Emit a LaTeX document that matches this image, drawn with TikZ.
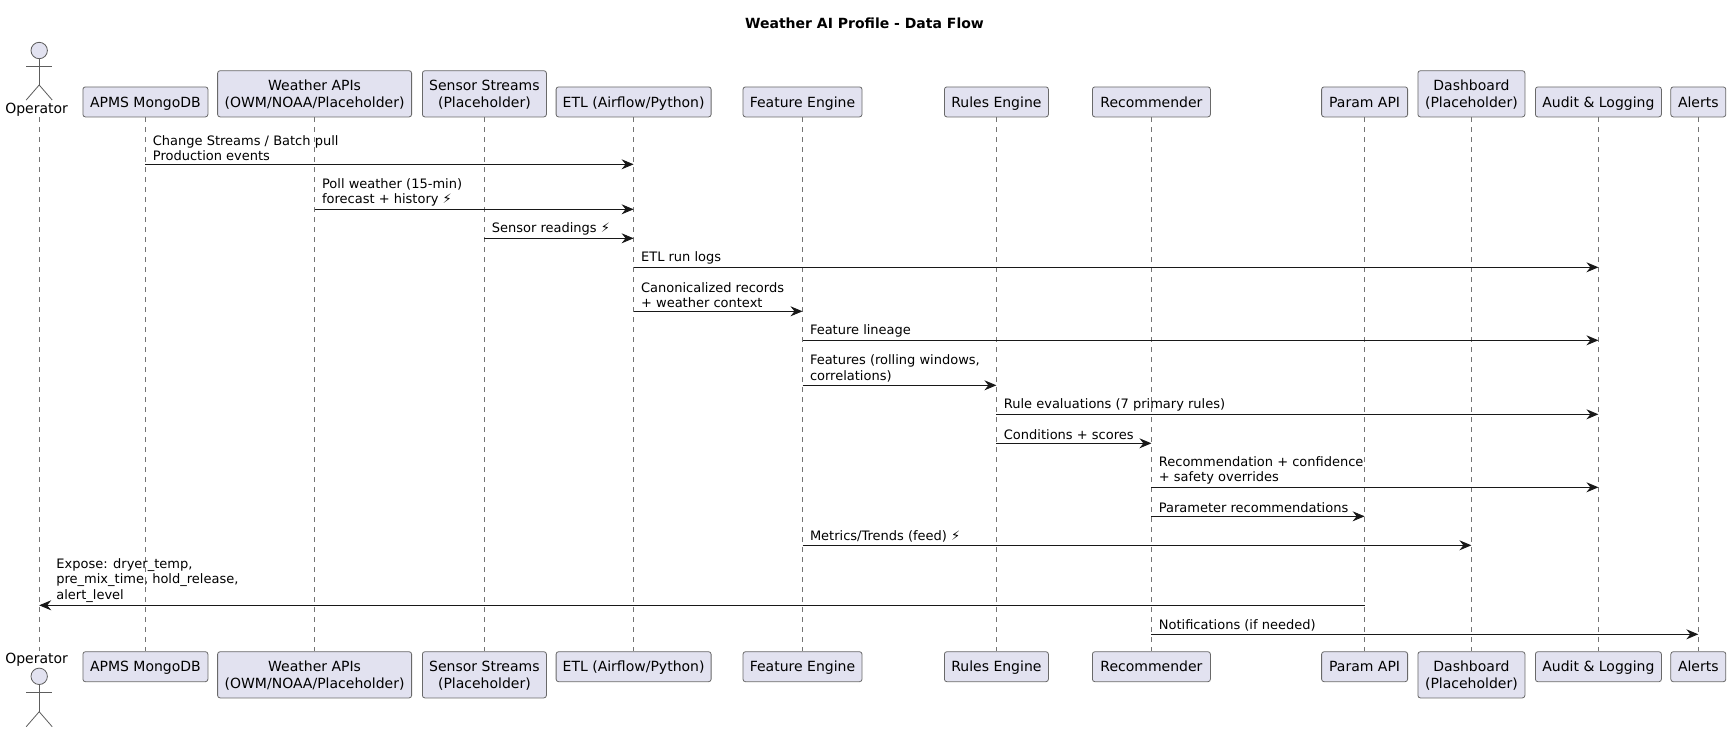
\documentclass[tikz,border=0pt]{standalone}
\usepackage{fontspec}
\setmainfont{DejaVu Sans}
\usetikzlibrary{arrows.meta, positioning}

\definecolor{partfill}{HTML}{E2E2F0}
\definecolor{partline}{HTML}{181818}

\tikzset{
  part/.style={draw=partline!65, fill=partfill, line width=0.8pt, rounded corners=2.5pt, align=center,
    inner sep=0pt, minimum height=30pt, text height=10.5pt, text depth=0pt, font=\fontsize{14}{16.2}\selectfont},
  tallpart/.style={part, minimum height=46.2pt, text height=26.7pt},
  lifeline/.style={draw=partline!60, line width=0.7pt, dash pattern=on 5pt off 5pt},
  msg/.style={draw=partline, line width=0.9pt, -{Stealth[length=12pt, width=10pt, inset=4pt]}},
  msglabel/.style={anchor=south west, align=left, inner sep=0pt, text=black, xshift=7.3pt, yshift=3pt,
    font=\fontsize{13}{15.4}\selectfont},
  stick/.style={draw=partline!70, line width=0.8pt},
}

\begin{document}
\begin{tikzpicture}[x=1pt, y=1pt]

  \useasboundingbox (0,0) rectangle (1731,-732);
  \fill[white] (0,0) rectangle (1731,-732);

  % Title
  \node[font=\fontsize{14}{16}\selectfont\bfseries] (title) at (864.5,-23) {Weather AI Profile - Data Flow};

  % Top participants
  \coordinate (opertop) at (39.2,-117.3);
  \node[part, anchor=south, minimum width=125pt] (apmstop) at (145.4,-117.3) {APMS MongoDB};
  \node[tallpart, anchor=south, minimum width=194pt] (weathertop) at (314.6,-117.3) {Weather APIs\\(OWM/NOAA/Placeholder)};
  \node[tallpart, anchor=south, minimum width=124pt] (sensortop) at (484.4,-117.3) {Sensor Streams\\(Placeholder)};
  \node[part, anchor=south, minimum width=155pt] (etltop) at (633.6,-117.3) {ETL (Airflow/Python)};
  \node[part, anchor=south, minimum width=119pt] (featuretop) at (802.5,-117.3) {Feature Engine};
  \node[part, anchor=south, minimum width=104pt] (rulestop) at (996.4,-117.3) {Rules Engine};
  \node[part, anchor=south, minimum width=118pt] (rectop) at (1151.4,-117.3) {Recommender};
  \node[part, anchor=south, minimum width=86pt] (paramtop) at (1364.6,-117.3) {Param API};
  \node[tallpart, anchor=south, minimum width=107pt] (dashtop) at (1471.4,-117.3) {Dashboard\\(Placeholder)};
  \node[part, anchor=south, minimum width=126pt] (audittop) at (1598.4,-117.3) {Audit \& Logging};
  \node[part, anchor=south, minimum width=55pt] (alertstop) at (1698.3,-117.3) {Alerts};

  % Bottom participants
  \coordinate (operbot) at (39.2,-651.3);
  \node[part, anchor=north, minimum width=125pt] (apmsbot) at (145.4,-651.3) {APMS MongoDB};
  \node[tallpart, anchor=north, minimum width=194pt] (weatherbot) at (314.6,-651.3) {Weather APIs\\(OWM/NOAA/Placeholder)};
  \node[tallpart, anchor=north, minimum width=124pt] (sensorbot) at (484.4,-651.3) {Sensor Streams\\(Placeholder)};
  \node[part, anchor=north, minimum width=155pt] (etlbot) at (633.6,-651.3) {ETL (Airflow/Python)};
  \node[part, anchor=north, minimum width=119pt] (featurebot) at (802.5,-651.3) {Feature Engine};
  \node[part, anchor=north, minimum width=104pt] (rulesbot) at (996.4,-651.3) {Rules Engine};
  \node[part, anchor=north, minimum width=118pt] (recbot) at (1151.4,-651.3) {Recommender};
  \node[part, anchor=north, minimum width=86pt] (parambot) at (1364.6,-651.3) {Param API};
  \node[tallpart, anchor=north, minimum width=107pt] (dashbot) at (1471.4,-651.3) {Dashboard\\(Placeholder)};
  \node[part, anchor=north, minimum width=126pt] (auditbot) at (1598.4,-651.3) {Audit \& Logging};
  \node[part, anchor=north, minimum width=55pt] (alertsbot) at (1698.3,-651.3) {Alerts};

  % Lifelines
  \draw[lifeline] (opertop) -- (operbot);
  \draw[lifeline] (apmstop) -- (apmsbot);
  \draw[lifeline] (weathertop) -- (weatherbot);
  \draw[lifeline] (sensortop) -- (sensorbot);
  \draw[lifeline] (etltop) -- (etlbot);
  \draw[lifeline] (featuretop) -- (featurebot);
  \draw[lifeline] (rulestop) -- (rulesbot);
  \draw[lifeline] (rectop) -- (recbot);
  \draw[lifeline] (paramtop) -- (parambot);
  \draw[lifeline] (dashtop) -- (dashbot);
  \draw[lifeline] (audittop) -- (auditbot);
  \draw[lifeline] (alertstop) -- (alertsbot);

  % Operator, top
  \draw[stick, fill=partfill] (39.2,-50.5) circle (8.2);
  \draw[stick] (39.2,-58.7) -- (39.2,-85) (26.2,-66) -- (52.2,-66);
  \draw[stick] (26.2,-100) -- (39.2,-85) -- (52.2,-100);
  \node[font=\fontsize{14}{16}\selectfont] (opertoplabel) at (36.6,-110) {Operator};

  % Operator, bottom
  \node[font=\fontsize{14}{16}\selectfont] (operbotlabel) at (36.6,-659.3) {Operator};
  \draw[stick, fill=partfill] (39.2,-676.3) circle (8.2);
  \draw[stick] (39.2,-684.5) -- (39.2,-711.7) (26.2,-692) -- (52.2,-692);
  \draw[stick] (26.2,-726.7) -- (39.2,-711.7) -- (52.2,-726.7);

  % Message heights
  \coordinate (m1) at (0,-164.3);
  \coordinate (m2) at (0,-209.3);
  \coordinate (m3) at (0,-238.3);
  \coordinate (m4) at (0,-267.3);
  \coordinate (m5) at (0,-311.3);
  \coordinate (m6) at (0,-340.3);
  \coordinate (m7) at (0,-385.3);
  \coordinate (m8) at (0,-414.3);
  \coordinate (m9) at (0,-443.3);
  \coordinate (m10) at (0,-487.3);
  \coordinate (m11) at (0,-516.3);
  \coordinate (m12) at (0,-545.3);
  \coordinate (m13) at (0,-605.3);
  \coordinate (m14) at (0,-634.3);

  % Messages
  \draw[msg] (apmstop |- m1) -- (etltop |- m1);
  \node[msglabel] (l1) at (apmstop |- m1) {Change Streams / Batch pull\\Production events};
  \draw[msg] (weathertop |- m2) -- (etltop |- m2);
  \node[msglabel] (l2) at (weathertop |- m2) {Poll weather (15-min)\\forecast + history ⚡};
  \draw[msg] (sensortop |- m3) -- (etltop |- m3);
  \node[msglabel] (l3) at (sensortop |- m3) {Sensor readings ⚡};
  \draw[msg] (etltop |- m4) -- (audittop |- m4);
  \node[msglabel] (l4) at (etltop |- m4) {ETL run logs};
  \draw[msg] (etltop |- m5) -- (featuretop |- m5);
  \node[msglabel] (l5) at (etltop |- m5) {Canonicalized records\\+ weather context};
  \draw[msg] (featuretop |- m6) -- (audittop |- m6);
  \node[msglabel] (l6) at (featuretop |- m6) {Feature lineage};
  \draw[msg] (featuretop |- m7) -- (rulestop |- m7);
  \node[msglabel] (l7) at (featuretop |- m7) {Features (rolling windows,\\correlations)};
  \draw[msg] (rulestop |- m8) -- (audittop |- m8);
  \node[msglabel] (l8) at (rulestop |- m8) {Rule evaluations (7 primary rules)};
  \draw[msg] (rulestop |- m9) -- (rectop |- m9);
  \node[msglabel] (l9) at (rulestop |- m9) {Conditions + scores};
  \draw[msg] (rectop |- m10) -- (audittop |- m10);
  \node[msglabel] (l10) at (rectop |- m10) {Recommendation + confidence\\+ safety overrides};
  \draw[msg] (rectop |- m11) -- (paramtop |- m11);
  \node[msglabel] (l11) at (rectop |- m11) {Parameter recommendations};
  \draw[msg] (featuretop |- m12) -- (dashtop |- m12);
  \node[msglabel] (l12) at (featuretop |- m12) {Metrics/Trends (feed) ⚡};
  \draw[msg] (paramtop |- m13) -- (opertop |- m13);
  \node[msglabel, xshift=9.7pt] (l13) at (opertop |- m13) {Expose: dryer\_temp,\\pre\_mix\_time, hold\_release,\\alert\_level};
  \draw[msg] (rectop |- m14) -- (alertstop |- m14);
  \node[msglabel] (l14) at (rectop |- m14) {Notifications (if needed)};

\end{tikzpicture}
\end{document}
